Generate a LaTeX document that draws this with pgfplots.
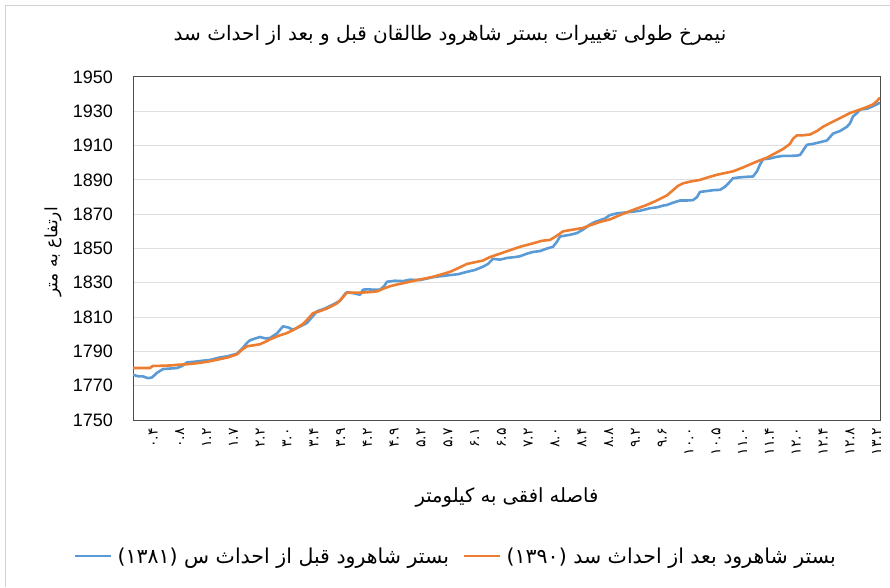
\documentclass[border=0pt]{standalone}
\usepackage{fontspec}
\setmainfont{Liberation Sans}
\newfontfamily\farsi[Script=Arabic]{DejaVu Sans}
\TeXXeTstate=1
\usepackage{pgfplots}
\pgfplotsset{compat=1.18}
\definecolor{sblue}{HTML}{5B9BD5}
\definecolor{sorange}{HTML}{ED7D31}
\begin{document}
\begin{tikzpicture}[x=1pt,y=1pt]
\path[use as bounding box] (0,0) rectangle (890,587);
\draw[gray!35, line width=1pt] (5,0) -- (5,581) -- (890,581);
\node at (450,552) {\farsi\fontsize{20}{22}\selectfont\beginR نیمرخ طولی تغییرات بستر شاهرود طالقان قبل و بعد از احداث سد\endR};
\node[rotate=90] at (53,335) {\farsi\fontsize{17}{19}\selectfont\beginR ارتفاع به متر\endR};
\node at (507,90) {\farsi\fontsize{19.5}{21}\selectfont\beginR فاصله افقی به کیلومتر\endR};
\begin{axis}[
  at={(133pt,167pt)}, anchor=south west,
  scale only axis, width=747pt, height=343pt,
  xmin=133, xmax=880, ymin=1750, ymax=1950,
  ytick={1750,1770,...,1950},
  xtick={153,179.8,206.6,233.4,260.2,287,313.8,340.6,367.4,394.2,421,447.8,474.6,501.4,528.2,555,581.8,608.6,635.4,662.2,689,715.8,742.6,769.4,796.2,823,849.8,876.6},
  xticklabels={۰.۴,۰.۸,۱.۲,۱.۷,۲.۲,۳.۰,۳.۴,۳.۹,۴.۲,۴.۹,۵.۲,۵.۷,۶.۱,۶.۵,۷.۲,۸.۰,۸.۴,۸.۸,۹.۲,۹.۶,۱۰.۰,۱۰.۵,۱۱.۰,۱۱.۴,۱۲.۰,۱۲.۴,۱۲.۸,۱۳.۲},
  xticklabel style={font=\farsi\fontsize{14}{14}\selectfont, rotate=90, anchor=east, inner xsep=8pt, inner ysep=0pt},
  yticklabel style={font=\fontsize{18}{20}\selectfont, anchor=east, inner sep=0pt, xshift=-20pt},
  /pgf/number format/assume math mode=true,
  /pgf/number format/1000 sep={},
  ymajorgrids, grid style={gray!25, line width=1pt},
  axis line style={gray!60!black, line width=1pt},
  major tick length=0pt,
  legend columns=2,
  legend style={draw=none, fill=none, at={(0.4324,-0.3965)}, anchor=center,
    font=\farsi\fontsize{20.5}{22}\selectfont,
    /tikz/every odd column/.append style={column sep=3pt},
    /tikz/every even column/.append style={column sep=12pt}},
  legend image code/.code={\draw[#1] (0pt,0pt) -- (36pt,0pt);},
]
\addplot[sblue, line width=2.6pt, line join=round] coordinates {
(133,1776.4)(138,1775.5)(143,1775.4)(148,1774.4)(152,1774.8)(157,1777.5)(163,1779.7)(170,1780.0)(177,1780.3)(182,1781.5)
(187,1783.6)(195,1784.0)(203,1784.6)(210,1785.0)(220,1786.5)(228,1787.2)(237,1788.7)(242,1791.5)(247,1795)(250,1796.5)
(255,1797.5)(260,1798.4)(265,1797.6)(270,1797.8)(277,1800.5)(283,1804.6)(288,1804)(293,1802.7)(300,1804.5)(307,1806.6)
(312,1810)(317,1813.4)(325,1815)(333,1817.3)(340,1819.5)(345,1823.5)(347,1824.5)(353,1824)(360,1823)(363,1826)
(367,1826.2)(373,1826)(380,1826)(384,1828)(387,1830.6)(395,1831.2)(403,1831)(410,1831.8)(420,1831.6)(427,1832.5)
(435,1833.5)(443,1834)(450,1834.5)(458,1835)(467,1836.4)(475,1837.5)(483,1839.4)(488,1841)(493,1844)(500,1843.5)
(507,1844.5)(515,1845)(520,1845.5)(527,1847)(533,1848)(540,1848.5)(547,1850)(553,1851)(557,1854)(560,1857)
(565,1857.5)(570,1858)(577,1859)(583,1861)(590,1864)(595,1865.5)(600,1866.5)(605,1867.5)(610,1869.5)(617,1870.5)
(625,1871)(633,1871.5)(640,1872)(650,1873.5)(657,1874)(663,1875)(667,1875.4)(672,1876.5)(680,1878)(687,1878)
(693,1878.2)(697,1880)(700,1883)(707,1883.5)(713,1884)(720,1884.2)(725,1886)(730,1889)(733,1891)(740,1891.5)
(747,1891.8)(753,1892)(757,1895)(760,1899)(763,1902)(770,1902.5)(777,1903.5)(783,1904)(790,1904)(797,1904.2)
(800,1904.5)(804,1908)(807,1910.5)(813,1911)(820,1912)(827,1913)(830,1915)(833,1917)(840,1918.5)(847,1921)
(850,1923)(853,1927)(857,1929)(860,1931)(867,1931.5)(873,1933)(880,1935)
};
\addlegendentry{\beginR بستر شاهرود قبل از احداث س (۱۳۸۱)\endR}
\addplot[sorange, line width=2.6pt, line join=round] coordinates {
(133,1780.3)(140,1780.3)(150,1780.3)(153,1781.6)(160,1781.6)(170,1781.8)(178,1782.2)(187,1782.5)(195,1783)(203,1783.6)
(212,1784.5)(220,1785.5)(228,1786.5)(237,1788.3)(242,1791)(247,1793)(253,1793.5)(260,1794.2)(265,1795.5)(270,1797)
(278,1799)(287,1800.7)(295,1803)(303,1806)(308,1809)(313,1812.3)(320,1813.5)(327,1815)(332,1816.5)(337,1818)
(342,1821)(347,1824.3)(355,1824.3)(362,1824.3)(370,1824.6)(377,1825)(383,1826.5)(390,1828)(397,1829)(405,1830)
(417,1831.6)(425,1832.5)(433,1833.5)(442,1835)(450,1836.4)(458,1838.5)(467,1841)(475,1842)(483,1843)(490,1845)
(500,1847)(510,1849)(520,1851)(533,1853)(542,1854.5)(550,1855)(557,1857.5)(563,1860)(573,1861)(583,1862)
(590,1863.5)(600,1865.5)(610,1867)(620,1869.5)(633,1872.5)(645,1875)(655,1877.5)(667,1881)(673,1884)(678,1886.5)
(683,1888)(690,1889)(700,1890)(708,1891.5)(717,1893)(725,1894)(733,1895)(742,1897)(750,1899)(758,1901)
(767,1903)(775,1905.5)(783,1908)(790,1911)(793,1914)(797,1916)(803,1916)(810,1916.5)(817,1918.5)(823,1921)
(828,1922.5)(833,1924)(840,1926)(850,1929)(855,1930)(860,1931)(867,1932.5)(873,1934)(877,1936)(880,1938)
};
\addlegendentry{\beginR بستر شاهرود بعد از احداث سد (۱۳۹۰)\endR}
\end{axis}
\end{tikzpicture}
\end{document}
